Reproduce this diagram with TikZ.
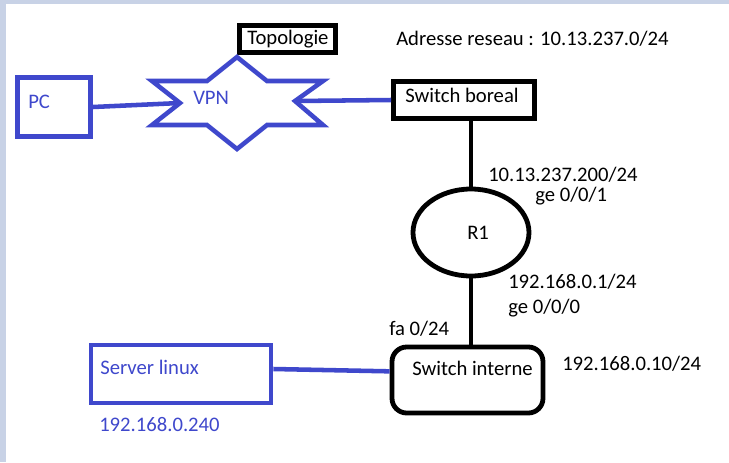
\documentclass[tikz,border=0pt]{standalone}
\usepackage{fontspec}
\setmainfont{Carlito}
\usetikzlibrary{shapes.geometric}
\definecolor{pblue}{RGB}{63,72,204}
\definecolor{framec}{RGB}{200,210,230}
\begin{document}
\begin{tikzpicture}[x=0.75pt,y=-0.75pt,
  lbl/.style={anchor=base west, inner sep=0pt, font=\fontsize{15.5}{18}\selectfont},
  blbl/.style={lbl, text=pblue},
  bbox/.style={draw=pblue, line width=3.6pt, inner sep=0pt},
  kbox/.style={draw=black, line width=3.6pt, inner sep=0pt},
  bline/.style={draw=pblue, line width=3.4pt},
  kline/.style={draw=black, line width=3.6pt}]
\useasboundingbox (0,0) rectangle (729,462);
\fill[white] (0,0) rectangle (729,462);
\fill[framec] (0,0) rectangle (729,4);
\fill[framec] (0,0) rectangle (6,462);

% shapes
\node[bbox, minimum width=54.75pt, minimum height=44.25pt] (pc) at (54,107) {};
\node[kbox, minimum width=72pt, minimum height=20.25pt] (topo) at (287.5,39) {};
\node[kbox, minimum width=105.75pt, minimum height=27.75pt] (boreal) at (464,100) {};
\node[kbox, ellipse, minimum width=87pt, minimum height=65.25pt] (r1) at (471,232.5) {};
\node[kbox, rounded corners=11pt, minimum width=113.25pt, minimum height=49.5pt] (swi) at (467.5,380) {};
\node[bbox, minimum width=135pt, minimum height=43.5pt] (srv) at (181,374) {};

% VPN star
\coordinate (vpnL) at (180,103);
\coordinate (vpnR) at (295,101);
\draw[bline, line join=miter] (152,81) -- (207,81) -- (237,57) -- (267,81) -- (323,81) -- (vpnR) -- (323,125) -- (267,125) -- (237,149) -- (207,125) -- (152,125) -- (vpnL) -- cycle;

% connectors
\draw[bline] (pc.east) -- (vpnL);
\draw[bline] (vpnR) -- (boreal.west);
\draw[kline] (r1.north |- boreal.south) -- (r1.north);
\draw[kline] (r1.south) -- (r1.south |- swi.north);
\draw[bline] ([yshift=3.75pt]srv.east) -- ([yshift=6.5pt]swi.west);

% labels
\node[blbl] (tpc) at (28,108) {PC};
\node[blbl] (tvpn) at (193,104) {VPN};
\node[lbl] (ttopo) at (247,44) {Topologie};
\node[lbl] (tadr) at (396,45) {Adresse reseau : 10.13.237.0/24};
\node[lbl] (tbor) at (405,102) {Switch boreal};
\node[lbl] (tip1) at (488,181) {10.13.237.200/24};
\node[lbl] (tge1) at (535,201) {ge 0/0/1};
\node[lbl] (tr1) at (467,239) {R1};
\node[lbl] (tip2) at (508,288) {192.168.0.1/24};
\node[lbl] (tge0) at (508,313) {ge 0/0/0};
\node[lbl] (tfa) at (389,335) {fa 0/24};
\node[lbl] (tswi) at (412,375) {Switch interne};
\node[lbl] (tip3) at (562,370) {192.168.0.10/24};
\node[blbl] (tsrv) at (100,374) {Server linux};
\node[blbl] (tip4) at (99,431) {192.168.0.240};
\end{tikzpicture}
\end{document}
